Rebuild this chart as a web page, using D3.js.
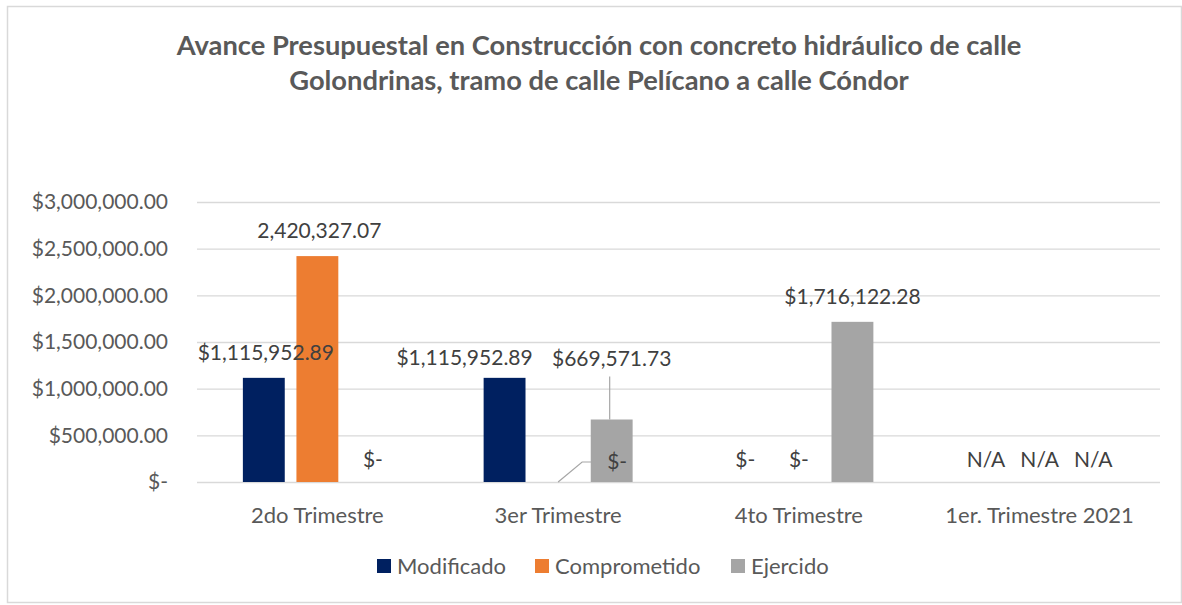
<!DOCTYPE html>
<html><head><meta charset="utf-8">
<script src="https://cdn.jsdelivr.net/npm/d3@7"></script>
<style>
html,body{margin:0;padding:0;background:#fff;}
text{font-family:Lato,"Open Sans",sans-serif;}
</style></head>
<body><svg id="c" width="1182" height="605"></svg>
<script>
const categories = ["2do Trimestre","3er Trimestre","4to Trimestre","1er. Trimestre 2021"];
const seriesNames = ["Modificado","Comprometido","Ejercido"];
const modificado = [1115952.89, 1115952.89, 0, null];
const comprometido = [2420327.07, 0, 0, null];
const ejercido = [0, 669571.73, 1716122.28, null];
const yTicks = [0, 500000, 1000000, 1500000, 2000000, 2500000, 3000000];
const colors = ["#002060","#ED7D31","#A5A5A5"];

const svg = d3.select("#c");
const W = 1182, H = 605;
svg.append("rect").attr("x",7.5).attr("y",6.5).attr("width",W-8).attr("height",H-9)
  .attr("fill","#fff").attr("stroke","#d9d9d9").attr("stroke-width",1.5);

// title
const title = svg.append("text").attr("text-anchor","middle").attr("fill","#595959")
  .style("font-size","27.3px").style("font-weight","bold");
title.append("tspan").attr("x",599).attr("y",55).text("Avance Presupuestal en Construcción con concreto hidráulico de calle");
title.append("tspan").attr("x",599).attr("y",90).text("Golondrinas, tramo de calle Pelícano a calle Cóndor");

const x0 = d3.scaleBand().domain(categories).range([197,1160]);
const x1 = d3.scaleBand().domain(seriesNames).range([0,149]).paddingInner(0.218);
const y = d3.scaleLinear().domain([0,3000000]).range([482,202]);

// grid
svg.append("g").selectAll("line").data(yTicks).join("line")
  .attr("x1",197).attr("x2",1160).attr("y1",d=>y(d)+0.5).attr("y2",d=>y(d)+0.5)
  .attr("stroke","#d9d9d9").attr("stroke-width",1.3);

const fmt = d3.format(",.2f");
const tickFmt = d=> d===0 ? "$-" : "$"+fmt(d);
svg.append("g").selectAll("text").data(yTicks).join("text")
  .attr("x",168).attr("y",d=>y(d)).attr("dy","0.35em").attr("text-anchor","end")
  .attr("fill","#595959").style("font-size","21px").text(tickFmt);

// category labels
svg.append("g").selectAll("text").data(categories).join("text")
  .attr("x",d=>x0(d)+x0.bandwidth()/2).attr("y",515).attr("dy","0.35em").attr("text-anchor","middle")
  .attr("fill","#595959").style("font-size","22px").text(d=>d);

const allSeries = [modificado, comprometido, ejercido];
const groupOff = (x0.bandwidth()-149)/2;
const rows = [];
allSeries.forEach((vals,si)=>{
  vals.forEach((v,ci)=>{
    rows.push({s:seriesNames[si], si, ci, c:categories[ci], v});
  });
});
const bx = d=> x0(d.c)+groupOff+x1(d.s);
svg.append("g").selectAll("rect").data(rows.filter(d=>d.v)).join("rect")
  .attr("x",bx).attr("width",x1.bandwidth())
  .attr("y",d=>y(d.v)).attr("height",d=>y(0)-y(d.v)).attr("fill",d=>colors[d.si]);

// label adjustments (manual label positions as in the source chart)
const adj = {
  "0-0":{dx:2,dy:-3},
  "1-0":{dx:2,dy:-3},
  "0-1":{dx:-40,dy:2},
  "2-1":{dx:0,dy:-39, leader:true},
  "1-1":{dx:59,dy:2, leader2:true},
  "2-0":{dx:2,dy:0},
  "2-2":{dx:0,dy:-3},
};
const lblText = d=>{
  if(d.v===null) return "N/A";
  if(d.v===0) return "$-";
  if(d.si===1 && d.ci===0) return fmt(d.v);
  return "$"+fmt(d.v);
};
const lg = svg.append("g");
rows.forEach(d=>{
  const a = adj[d.si+"-"+d.ci]||{dx:0,dy:0};
  const cx = bx(d)+x1.bandwidth()/2;
  const top = y(d.v||0);
  const lx = cx+a.dx, ly = top-22+a.dy;
  if(a.leader){
    lg.append("line").attr("x1",lx-2).attr("x2",lx-2).attr("y1",ly+18).attr("y2",top)
      .attr("stroke","#a6a6a6").attr("stroke-width",1.2);
  }
  if(a.leader2){
    lg.append("polyline").attr("points",[[cx,y(0)],[cx+24,ly],[cx+33,ly]].join(" "))
      .attr("fill","none").attr("stroke","#a6a6a6").attr("stroke-width",1.2);
  }
  lg.append("text").attr("x",lx).attr("y",ly).attr("dy","0.35em").attr("text-anchor","middle")
    .attr("fill","#404040").style("font-size","21px").text(lblText(d));
});

// legend
const legX = [377,535,731];
const leg = svg.append("g").selectAll("g").data(seriesNames).join("g")
  .attr("transform",(d,i)=>`translate(${legX[i]},566)`);
leg.append("rect").attr("x",0).attr("y",-7).attr("width",14).attr("height",14).attr("fill",(d,i)=>colors[i]);
leg.append("text").attr("x",20).attr("y",0).attr("dy","0.35em").attr("fill","#595959")
  .style("font-size","22px").text(d=>d);
</script></body></html>
